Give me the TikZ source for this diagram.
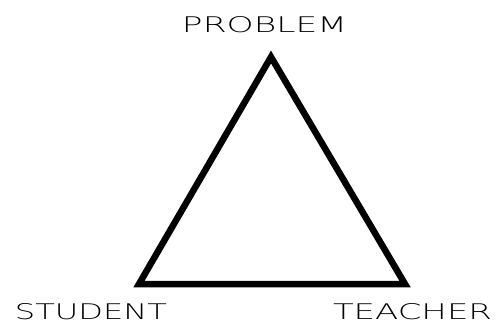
\documentclass[tikz,border=0pt]{standalone}
\usepackage{fontspec}
\setmainfont{Liberation Sans}
\newfontfamily\lbl{DejaVu Sans}[UprightFont=* ExtraLight]
\begin{document}
\begin{tikzpicture}[x=1pt,y=-1pt,
  lab/.style={inner sep=0pt, anchor=center, font=\lbl},
  tri/.style={line width=6.5pt, line join=miter, miter limit=20}]
\useasboundingbox (0,0) rectangle (497,324);
\coordinate (p) at (271,57);
\coordinate (s) at (139,284);
\coordinate (t) at (405,284);
\draw[tri] (p) -- (s) -- (t) -- cycle;
\node[lab] (lp) at (264.5,25) {\resizebox{165pt}{16pt}{PROBLEM}};
\node[lab] (ls) at (91,312) {\resizebox{152pt}{16pt}{STUDENT}};
\node[lab] (lt) at (412.5,312) {\resizebox{159pt}{16pt}{TEACHER}};
\end{tikzpicture}
\end{document}
